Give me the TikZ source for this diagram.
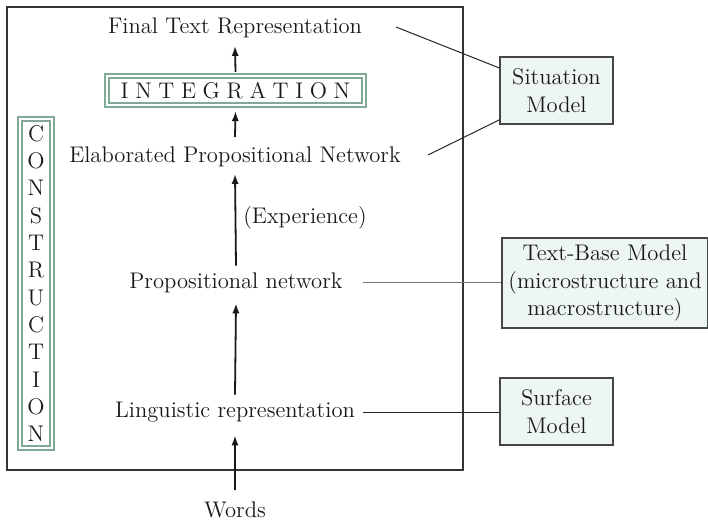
\documentclass[tikz,border=0pt]{standalone}
\usetikzlibrary{arrows.meta,calc}
\definecolor{sage}{RGB}{128,170,150}
\definecolor{mint}{RGB}{238,246,242}
\definecolor{boxline}{RGB}{70,70,70}
\begin{document}
\begin{tikzpicture}[x=0.5pt,y=-0.5pt,
  every node/.style={font=\fontsize{11.3pt}{13.7pt}\selectfont, text=black!90},
  label/.style={inner sep=0pt},
  stage/.style={draw=sage, line width=1.1pt, double=white, double distance=0.8pt, inner sep=0pt},
  model/.style={draw=boxline, line width=0.6pt, fill=mint, align=center, inner sep=0pt},
  flow/.style={-{Latex[length=5pt,width=3.6pt]}, line width=0.9pt, black!90},
  link/.style={line width=0.5pt, black!85}]
\useasboundingbox (0,0) rectangle (708,521);
% outer frame of the comprehension process
\draw[line width=0.55pt, black!80] (7,7) rectangle (463,470);

% stages
\node[label] (final) at (235,27.5) {Final Text Representation};
\node[stage, minimum width=128.5pt, minimum height=14.5pt] (integ) at (235.5,90.5)
  {I\hspace{3.3pt}N\hspace{3.3pt}T\hspace{3.3pt}E\hspace{3.3pt}G\hspace{3.3pt}R\hspace{3.3pt}A\hspace{3.3pt}T\hspace{3.3pt}I\hspace{3.3pt}O\hspace{3.3pt}N};
\node[label] (elab) at (235,156.5) {Elaborated Propositional Network};
\node[label] (exper) at (305,218) {(Experience)};
\node[label] (prop) at (236,282.5) {Propositional network};
\node[label] (ling) at (235,412) {Linguistic representation};
\node[label] (words) at (235,510) {Words};
\node[stage, minimum width=16pt, minimum height=164.5pt, align=center,
      font=\fontsize{11.3pt}{13.65pt}\selectfont] (constr) at (36,283.5)
  {C\\O\\N\\S\\T\\R\\U\\C\\T\\I\\O\\N};

% models
\node[model, minimum width=56.5pt, minimum height=33.5pt] (sit) at (556.5,90.5) {Situation\\Model};
\node[model, minimum width=103pt, minimum height=45pt] (tb) at (605,283) {Text-Base Model\\(microstructure and\\macrostructure)};
\node[model, minimum width=56.5pt, minimum height=33.5pt] (surf) at (556.5,411.5) {Surface\\Model};

% arrows between stages
\draw[flow] ([yshift=5.6pt]words.north) -- ([yshift=-6.5pt]ling.south);
\draw[flow] ([yshift=3.5pt]ling.north) -- ([yshift=-5.2pt]prop.south);
\draw[flow] ([yshift=3.2pt]prop.north) -- ([yshift=-3.5pt]elab.south);
\draw[flow] ([yshift=4.5pt]elab.north) -- ([yshift=-2.5pt]integ.south);
\draw[flow] ([yshift=1.5pt]integ.north) -- ([yshift=-4pt]final.south);

% links to the models
\coordinate (finalend) at (396,27);
\coordinate (elabend) at (428,155);
\coordinate (sitA) at ($(sit.north west)!0.17!(sit.south west)$);
\coordinate (sitB) at ($(sit.north west)!0.93!(sit.south west)$);
\draw[link] (finalend) -- (sitA);
\draw[link] (elabend) -- (sitB);
\draw[link, black!55, line width=0.8pt] ([xshift=10pt]prop.east) -- (tb.west |- prop.east);
\draw[link] ([xshift=4pt]ling.east) -- (surf.west |- ling.east);
\end{tikzpicture}
\end{document}
